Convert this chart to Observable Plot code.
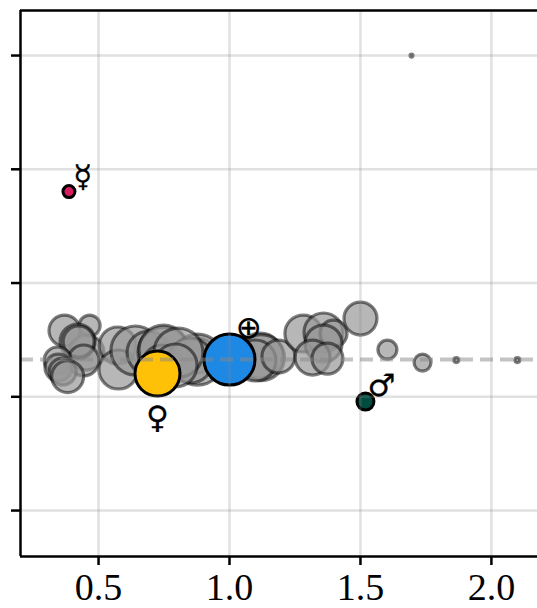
<!DOCTYPE html>
<html>
<head>
<meta charset="utf-8">
<style>html,body{margin:0;padding:0;background:#fff;overflow:hidden}svg{display:block}</style>
<script src="https://cdn.jsdelivr.net/npm/d3@7"></script>
<script src="https://cdn.jsdelivr.net/npm/@observablehq/plot@0.6"></script>
</head>
<body>
<div id="chart"></div>
<script>
const xDomain = [0.202, 2.176];
const yDomain = [-0.404, 4.396];
const xTicks = [0.5, 1, 1.5, 2];
const yTicks = [0, 1, 2, 3, 4];
const earthLevel = 1.327;

const grayX = [0.370,0.466,0.454,0.420,0.424,0.443,0.344,0.347,0.363,0.382,0.573,0.576,0.641,0.691,0.748,0.748,0.744,0.882,0.878,0.851,0.805,0.794,1.118,1.122,1.099,1.187,1.282,1.359,1.397,1.359,1.317,1.374,1.5,1.603,1.737,1.866,2.099,1.695];
const grayY = [1.582,1.626,1.389,1.486,1.486,1.319,1.319,1.257,1.222,1.178,1.451,1.240,1.407,1.389,1.389,1.415,1.275,1.363,1.327,1.319,1.389,1.275,1.363,1.345,1.319,1.354,1.556,1.565,1.556,1.468,1.345,1.336,1.688,1.415,1.301,1.323,1.323,4.0];
const graySize = [.608,.412,.686,.686,.608,.608,.529,.529,.529,.627,.725,.765,.961,.843,1.0,.961,.804,.686,1.0,.882,.961,.843,.882,.902,.804,.647,.725,.765,.529,.725,.686,.608,.647,.373,.333,.098,.098,.059];

const planetNames = ["Mercury","Venus","Earth","Mars"];
const planetX = [0.387,0.725,1.0,1.519];
const planetY = [2.804,1.204,1.327,0.958];
const planetSize = [0.235,0.882,1.0,0.333];
const planetColors = ["#D81B60","#FFC107","#1E88E5","#004D40"];

const symbolTexts = ["☿","♀","⊕","♂"];
const symbolX = [0.44,0.725,1.073,1.58];
const symbolY = [2.93,0.81,1.606,1.09];

const gray = grayX.map((x,i)=>({x,y:grayY[i],s:graySize[i]}));
const planets = planetNames.map((name,i)=>({name,x:planetX[i],y:planetY[i],s:planetSize[i],c:planetColors[i]}));
const symbols = symbolTexts.map((t,i)=>({t,x:symbolX[i],y:symbolY[i]}));
const font = "'Liberation Serif', serif";

const chart = Plot.plot({
  width:537, height:608,
  marginLeft:20, marginRight:0, marginTop:10, marginBottom:52,
  style:{background:"#fff", overflow:"hidden"},
  x:{domain:xDomain},
  y:{domain:yDomain},
  r:{type:"linear",domain:[0,1],range:[0,25.5]},
  marks:[
    Plot.dot(gray,{x:"x",y:"y",r:"s",sort:null,fill:"#999",fillOpacity:0.7,stroke:"#000",strokeOpacity:0.5,strokeWidth:3.2}),
    Plot.dot(planets,{x:"x",y:"y",r:"s",sort:null,fill:"c",stroke:"#000",strokeWidth:3}),
    Plot.gridX(xTicks,{stroke:"#888",strokeOpacity:0.25,strokeWidth:2.5}),
    Plot.gridY(yTicks,{stroke:"#888",strokeOpacity:0.25,strokeWidth:2.5}),
    Plot.ruleY([earthLevel],{stroke:"#888",strokeOpacity:0.5,strokeWidth:4,strokeDasharray:"13 7"}),
    Plot.text(symbols,{x:"x",y:"y",text:"t",fontSize:31,fontFamily:"'DejaVu Sans'",fill:"#000",stroke:"#000",strokeWidth:0.3}),
    Plot.ruleX([xDomain[0]],{stroke:"#000",strokeWidth:2.5}),
    Plot.ruleY([yDomain[0]],{stroke:"#000",strokeWidth:2.5}),
    Plot.ruleY([yDomain[1]],{stroke:"#000",strokeWidth:2.5}),
    Plot.axisX({ticks:xTicks,tickFormat:d3.format(".1f"),tickSize:9,tickPadding:8,fontSize:38,fontFamily:font,fill:"#000",strokeWidth:2.5,label:null}),
    Plot.axisY({ticks:yTicks,tickFormat:()=>"",tickSize:9,strokeWidth:2.5,label:null})
  ]
});
document.getElementById("chart").appendChild(chart);
</script>
</body>
</html>
